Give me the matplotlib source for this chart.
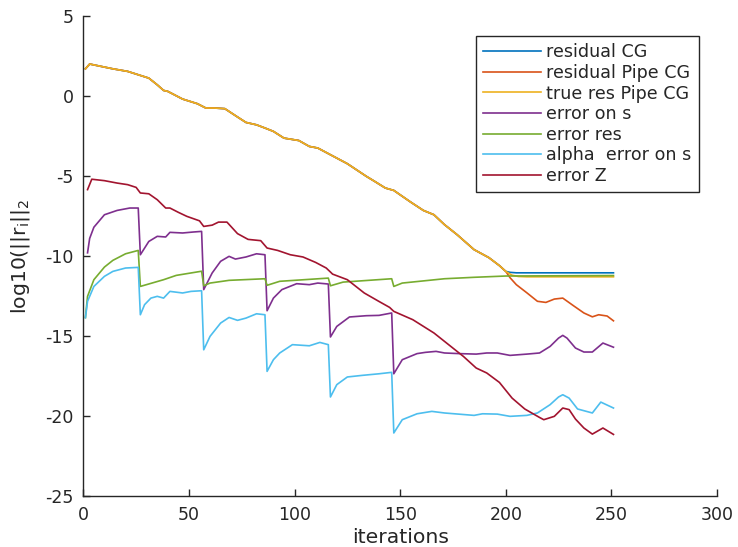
import matplotlib
matplotlib.use('Agg')
import matplotlib.pyplot as plt

# iterations / log10 norms
head_x = [1, 3, 14, 21, 31, 35, 38, 40, 47, 54, 58, 62, 67, 73, 77, 82, 86, 90, 95, 102,
          107, 111, 120, 125, 134, 138, 143, 147, 155, 161, 166, 171, 177, 185, 192, 197, 200]
head_y = [1.7, 2.0, 1.7, 1.54, 1.12, 0.7, 0.35, 0.29, -0.19, -0.48, -0.75, -0.75, -0.79,
          -1.31, -1.65, -1.8, -2.0, -2.21, -2.63, -2.78, -3.15, -3.25, -3.88, -4.23, -5.02,
          -5.34, -5.75, -5.9, -6.63, -7.15, -7.42, -8.04, -8.67, -9.6, -10.1, -10.6, -10.96]

cg_tail_x = [202, 205, 251]
cg_tail_y = [-11.02, -11.05, -11.05]

pipe_tail_x = [202, 205, 210, 215, 219, 223, 227, 232, 237, 241, 244, 248, 251]
pipe_tail_y = [-11.35, -11.79, -12.3, -12.83, -12.9, -12.69, -12.63, -13.1, -13.56, -13.8,
               -13.67, -13.75, -14.05]

true_tail_x = [203, 206, 210, 251]
true_tail_y = [-11.2, -11.28, -11.3, -11.3]

errs_x = [2, 3, 5, 10, 16, 22, 26, 27, 31, 35, 39, 41, 47, 52, 56, 57, 61, 65, 69, 72, 77,
          82, 86, 87, 90, 94, 101, 107, 111, 116, 117, 120, 126, 134, 140, 146, 147, 151, 158,
          162, 167, 171, 178, 186, 191, 196, 202, 210, 216, 221, 225, 227, 229, 233, 237, 241,
          246, 251]
errs_y = [-9.8, -8.9, -8.2, -7.42, -7.15, -7.0, -7.0, -9.92, -9.09, -8.77, -8.81, -8.52, -8.56,
          -8.5, -8.46, -12.1, -11.06, -10.33, -10.02, -10.19, -10.06, -9.86, -9.92, -13.42,
          -12.63, -12.1, -11.73, -11.79, -11.69, -11.75, -15.06, -14.4, -13.81, -13.73, -13.71,
          -13.56, -17.36, -16.48, -16.1, -16.02, -15.96, -16.06, -16.1, -16.13, -16.06, -16.06,
          -16.21, -16.13, -16.06, -15.65, -15.13, -14.96, -15.13, -15.75, -16.0, -16.0, -15.44,
          -15.7]

errres_x = [1, 2, 5, 10, 14, 20, 26, 27, 38, 44, 56, 57, 60, 69, 86, 87, 93, 116, 117, 123,
            146, 147, 151, 171, 185, 200, 251]
errres_y = [-13.85, -12.52, -11.48, -10.69, -10.27, -9.86, -9.65, -11.9, -11.48, -11.21,
            -10.95, -11.86, -11.69, -11.52, -11.42, -11.83, -11.58, -11.38, -11.86, -11.63,
            -11.42, -11.9, -11.69, -11.42, -11.33, -11.25, -11.22]

alpha_x = [1, 2, 5, 10, 14, 20, 26, 27, 29, 32, 35, 38, 41, 47, 51, 56, 57, 60, 65, 69, 73,
           77, 82, 86, 87, 90, 93, 99, 107, 112, 116, 117, 120, 125, 132, 140, 146, 147, 151,
           158, 165, 171, 185, 189, 196, 202, 210, 215, 221, 225, 227, 230, 234, 241, 245, 251]
alpha_y = [-13.85, -12.83, -11.9, -11.27, -10.96, -10.75, -10.71, -13.67, -13.04, -12.63,
           -12.52, -12.63, -12.21, -12.31, -12.21, -12.17, -15.86, -15.02, -14.19, -13.84,
           -14.02, -13.88, -13.61, -13.67, -17.21, -16.48, -16.06, -15.54, -15.61, -15.4,
           -15.54, -18.81, -18.04, -17.56, -17.46, -17.36, -17.27, -21.06, -20.23, -19.86,
           -19.71, -19.81, -19.96, -19.86, -19.88, -20.02, -19.96, -19.81, -19.29, -18.81,
           -18.67, -18.88, -19.56, -19.81, -19.13, -19.5]

errz_x = [2, 4, 10, 16, 21, 25, 27, 31, 35, 39, 41, 45, 49, 55, 57, 61, 64, 68, 73, 78, 84,
          87, 92, 98, 104, 110, 115, 117, 118, 125, 133, 140, 145, 147, 156, 166, 172, 180,
          186, 191, 197, 203, 209, 216, 218, 223, 227, 230, 233, 237, 241, 246, 251]
errz_y = [-5.85, -5.2, -5.29, -5.44, -5.54, -5.71, -6.06, -6.11, -6.48, -7.0, -7.0, -7.27,
          -7.52, -7.8, -8.15, -8.07, -7.88, -7.88, -8.6, -8.96, -9.04, -9.5, -9.65, -9.92,
          -10.06, -10.4, -10.75, -11.0, -11.13, -11.48, -12.31, -12.84, -13.21, -13.46,
          -13.98, -14.81, -15.44, -16.28, -17.0, -17.31, -17.9, -18.88, -19.56, -20.09,
          -20.23, -20.02, -19.5, -19.6, -20.19, -20.75, -21.13, -20.75, -21.15]

ink = '#262626'
plt.rcParams['font.family'] = 'DejaVu Sans'
plt.rcParams['mathtext.default'] = 'regular'
plt.rcParams['axes.unicode_minus'] = False

fig = plt.figure(figsize=(7.38, 5.47), dpi=100)
ax = fig.add_axes([0.1129, 0.0932, 0.8586, 0.8775])

lw = 1.2
ax.plot(head_x + cg_tail_x, head_y + cg_tail_y, color='#0072BD', lw=lw, label='residual CG')
ax.plot(head_x + pipe_tail_x, head_y + pipe_tail_y, color='#D95319', lw=lw, label='residual Pipe CG')
ax.plot(head_x + true_tail_x, head_y + true_tail_y, color='#EDB120', lw=lw, label='true res Pipe CG')
ax.plot(errs_x, errs_y, color='#7E2F8E', lw=lw, label='error on s')
ax.plot(errres_x, errres_y, color='#77AC30', lw=lw, label='error res')
ax.plot(alpha_x, alpha_y, color='#4DBEEE', lw=lw, label='alpha  error on s')
ax.plot(errz_x, errz_y, color='#A2142F', lw=lw, label='error Z')

ax.set_xlim(0, 300)
ax.set_ylim(-25, 5)
ax.set_xticks(range(0, 301, 50))
ax.set_yticks(range(-25, 6, 5))
for s in ['top', 'right']:
    ax.spines[s].set_visible(False)
for s in ['left', 'bottom']:
    ax.spines[s].set_color(ink)
    ax.spines[s].set_linewidth(1.0)
ax.tick_params(direction='in', length=5, width=1.0, colors=ink, labelsize=12.5, pad=7)

ax.set_xlabel('iterations', fontsize=14.7, color=ink, labelpad=3)
ax.set_ylabel('log10(||r$_i$||$_2$', fontsize=14.7, color=ink, labelpad=9.5)

leg = ax.legend(loc='upper right', bbox_to_anchor=(699 / 738, 1 - 36 / 547),
                bbox_transform=fig.transFigure, borderaxespad=0, fontsize=12.6,
                fancybox=False, framealpha=1, edgecolor=ink, handlelength=3.3,
                handletextpad=0.3, labelspacing=0.15, borderpad=0.42)
leg.get_frame().set_linewidth(1.0)
for t in leg.get_texts():
    t.set_color(ink)

fig.savefig('out.png', dpi=100)
